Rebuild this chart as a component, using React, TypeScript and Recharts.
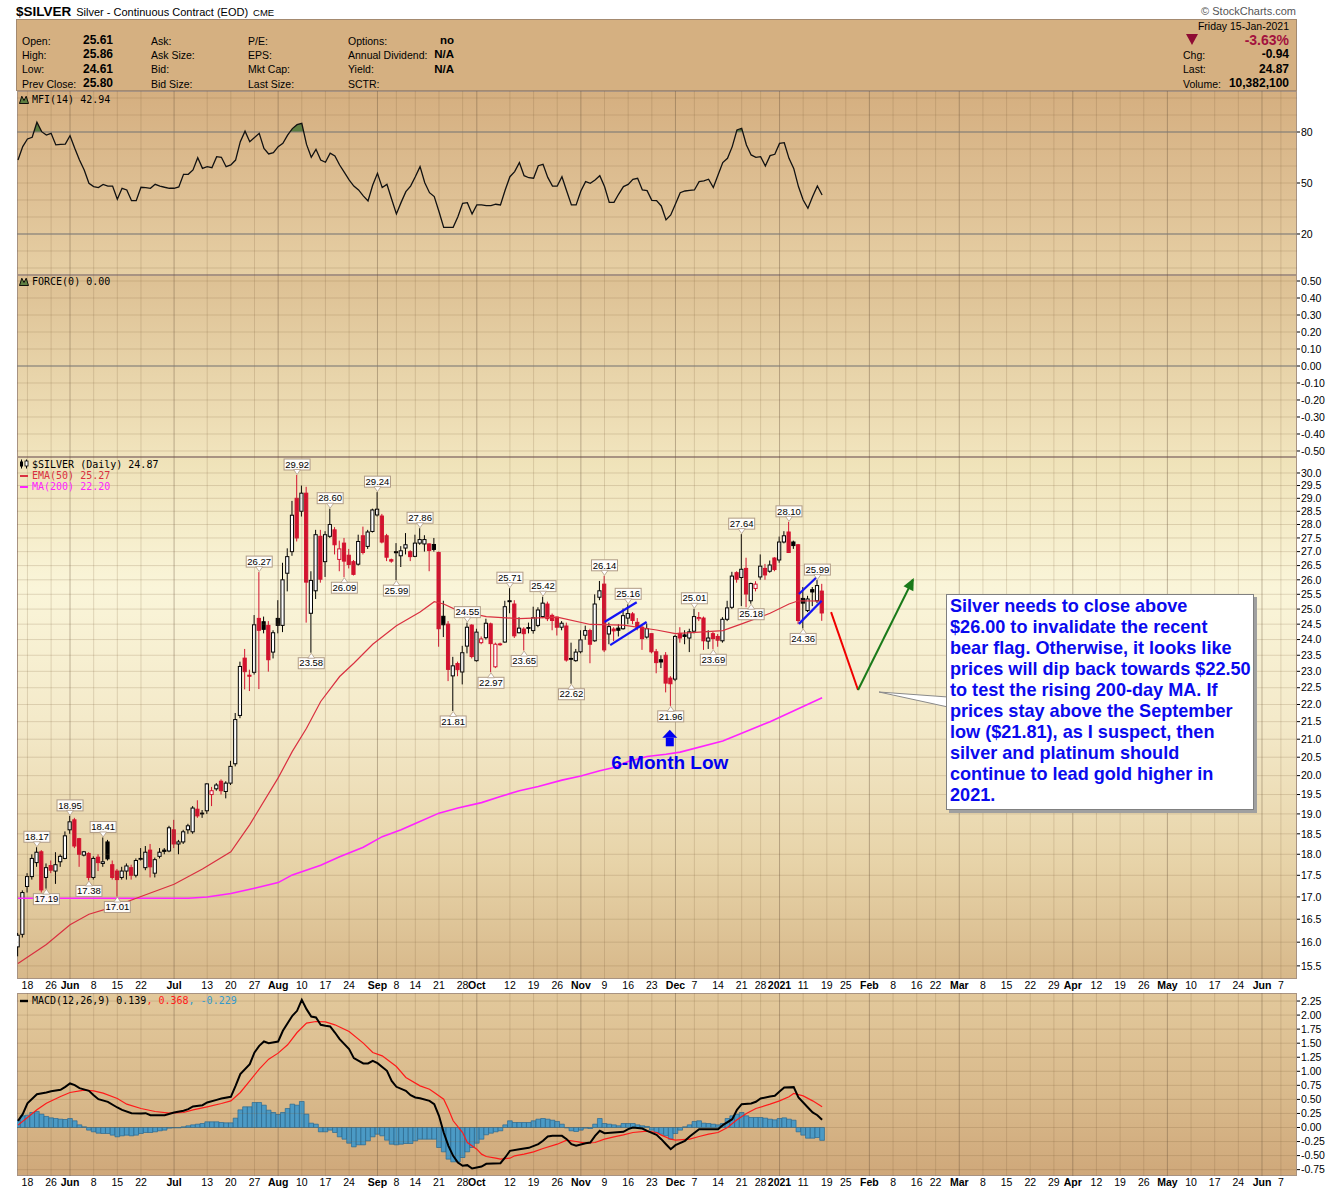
import React from 'react';
import { ComposedChart, Bar, Line, Area, XAxis, YAxis, ReferenceLine, ReferenceDot } from 'recharts';

const FONT = '"Liberation Sans", Arial, Helvetica, sans-serif';
const MONO = '"DejaVu Sans Mono", "Liberation Mono", monospace';
const W = 1340;
const PL = 17;
const AW = 43;
const X_MIN = -0.21;
const X_MAX = 270.4;
const RED = '#D3122F';
const GRID_C = 'rgba(120,92,55,0.20)';
const MONTH_C = 'rgba(105,82,60,0.40)';

// ---- x axis labels: [trading-day index, label, isMonth]
const xTicks: [number, string, number][] = [
  [2, '18', 0], [7, '26', 0], [11, 'Jun', 1], [16, '8', 0], [21, '15', 0], [26, '22', 0], [33, 'Jul', 1], [40, '13', 0],
  [45, '20', 0], [50, '27', 0], [55, 'Aug', 1], [60, '10', 0], [65, '17', 0], [70, '24', 0], [76, 'Sep', 1], [80, '8', 0],
  [84, '14', 0], [89, '21', 0], [94, '28', 0], [97, 'Oct', 1], [104, '12', 0], [109, '19', 0], [114, '26', 0], [119, 'Nov', 1],
  [124, '9', 0], [129, '16', 0], [134, '23', 0], [139, 'Dec', 1], [143, '7', 0], [148, '14', 0], [153, '21', 0], [157, '28', 0],
  [161, '2021', 1], [166, '11', 0], [171, '19', 0], [175, '25', 0], [180, 'Feb', 1], [185, '8', 0], [190, '16', 0], [194, '22', 0],
  [199, 'Mar', 1], [204, '8', 0], [209, '15', 0], [214, '22', 0], [219, '29', 0], [223, 'Apr', 1], [228, '12', 0], [233, '19', 0],
  [238, '26', 0], [243, 'May', 1], [248, '10', 0], [253, '17', 0], [258, '24', 0], [263, 'Jun', 1], [267, '7', 0],
];

// ---- daily candles [open, high, low, close], 14-May-2020 .. 15-Jan-2021
const ohlc: [number, number, number, number][] = [
  [15.9, 16.2, 15.7, 16.15], [16.17, 17.15, 16.1, 17.1], [17.24, 17.55, 17.1, 17.47], [17.47, 18.0, 17.4, 17.9], [17.8, 18.17, 17.7, 18.05],
  [18.06, 18.1, 17.1, 17.16], [17.45, 17.78, 17.19, 17.68], [17.73, 17.85, 17.55, 17.62], [17.6, 18.05, 17.3, 17.75], [17.82, 18.0, 17.7, 17.95],
  [17.9, 18.56, 17.88, 18.45], [18.6, 18.95, 18.5, 18.8], [18.85, 18.9, 18.15, 18.2], [18.38, 18.4, 17.7, 18.0], [17.98, 18.08, 17.95, 18.06],
  [18.02, 18.05, 17.38, 17.45], [17.45, 17.95, 17.4, 17.9], [17.93, 18.0, 17.6, 17.8], [17.78, 18.41, 17.7, 17.82], [18.3, 18.35, 17.85, 17.89],
  [17.75, 17.85, 17.4, 17.45], [17.6, 17.65, 17.01, 17.4], [17.45, 17.7, 17.4, 17.6], [17.6, 17.78, 17.4, 17.72], [17.68, 17.75, 17.4, 17.5],
  [17.5, 17.9, 17.45, 17.85], [17.88, 18.15, 17.85, 17.9], [17.68, 18.2, 17.62, 18.05], [18.1, 18.25, 17.45, 17.7], [17.55, 17.92, 17.45, 17.87],
  [17.95, 18.15, 17.9, 18.05], [18.1, 18.15, 18.0, 18.07], [18.08, 18.7, 18.05, 18.65], [18.6, 18.85, 18.15, 18.25], [18.25, 18.35, 18.0, 18.3],
  [18.3, 18.6, 18.25, 18.55], [18.6, 18.75, 18.5, 18.7], [18.55, 19.2, 18.5, 19.15], [19.12, 19.35, 18.9, 18.95], [19.02, 19.1, 18.9, 19.0],
  [19.08, 19.8, 19.0, 19.78], [19.5, 19.7, 19.2, 19.6], [19.65, 19.8, 19.6, 19.75], [19.85, 19.9, 19.5, 19.6], [19.58, 19.85, 19.4, 19.8],
  [19.8, 20.4, 19.75, 20.25], [20.32, 21.75, 20.25, 21.56], [21.68, 23.3, 21.6, 23.15], [23.41, 23.7, 22.45, 22.99], [22.88, 23.05, 22.4, 22.85],
  [22.97, 24.8, 22.9, 24.48], [24.69, 26.27, 22.46, 24.3], [24.58, 24.75, 24.2, 24.33], [24.46, 24.6, 22.99, 23.36], [23.6, 24.3, 23.4, 24.22],
  [24.69, 25.3, 24.2, 24.46], [24.46, 26.6, 24.24, 26.0], [26.23, 27.12, 25.6, 26.82], [27.0, 28.9, 26.85, 28.35], [29.0, 29.92, 27.37, 27.5],
  [28.5, 29.5, 28.3, 29.2], [29.2, 29.45, 24.55, 25.92], [24.86, 26.3, 23.58, 25.98], [25.62, 27.8, 25.34, 27.62], [27.56, 27.8, 25.9, 26.02],
  [26.64, 27.75, 26.1, 27.62], [27.56, 28.6, 27.5, 28.0], [27.8, 27.9, 26.9, 27.25], [26.72, 27.4, 26.3, 27.1], [27.31, 27.5, 26.09, 26.66],
  [26.87, 27.1, 26.4, 26.54], [26.64, 26.7, 26.15, 26.19], [26.55, 27.62, 26.5, 27.37], [27.58, 27.92, 26.9, 26.97], [27.19, 27.8, 27.1, 27.72],
  [27.74, 28.6, 27.7, 28.55], [28.36, 29.24, 28.3, 28.58], [28.32, 28.4, 27.3, 27.35], [27.58, 27.65, 26.66, 26.8], [26.71, 26.75, 26.6, 26.66],
  [27.0, 27.31, 25.99, 26.96], [26.85, 27.2, 26.45, 27.03], [27.13, 27.68, 26.9, 27.25], [27.0, 27.05, 26.66, 26.82], [26.83, 27.62, 26.8, 27.31],
  [27.31, 27.86, 27.25, 27.44], [27.28, 27.6, 27.0, 27.44], [27.28, 27.3, 26.3, 27.04], [27.26, 27.5, 27.0, 27.08], [26.97, 27.0, 23.77, 24.35],
  [24.76, 25.28, 24.08, 24.48], [24.5, 24.6, 22.7, 23.06], [22.86, 23.45, 21.81, 23.17], [23.24, 23.3, 22.85, 23.05], [22.98, 23.8, 22.6, 23.58],
  [23.79, 24.55, 23.56, 24.4], [24.47, 24.5, 23.4, 23.46], [23.33, 24.35, 23.3, 24.24], [23.9, 24.1, 23.85, 24.02], [24.06, 24.68, 24.0, 24.53],
  [24.51, 24.55, 22.97, 23.87], [23.14, 23.9, 23.1, 23.85], [23.86, 23.9, 23.8, 23.84], [23.92, 25.28, 23.9, 25.08], [25.28, 25.71, 24.86, 25.25],
  [25.17, 25.3, 24.05, 24.12], [24.22, 24.73, 24.2, 24.37], [24.34, 24.4, 23.65, 24.19], [24.39, 24.55, 24.2, 24.38], [24.29, 25.08, 24.19, 24.71],
  [24.46, 25.06, 24.4, 24.97], [24.75, 25.42, 24.7, 25.2], [25.17, 25.25, 24.6, 24.68], [24.79, 24.85, 24.3, 24.62], [24.73, 24.75, 24.13, 24.4],
  [24.4, 24.6, 24.3, 24.53], [24.44, 24.55, 23.3, 23.35], [23.4, 23.9, 22.62, 23.38], [23.33, 23.7, 23.3, 23.6], [23.61, 24.3, 23.56, 23.99],
  [24.14, 24.45, 23.99, 24.29], [24.29, 24.35, 23.25, 23.85], [23.96, 25.5, 23.93, 25.17], [25.4, 25.96, 25.3, 25.62], [25.85, 26.14, 23.6, 23.67],
  [24.18, 24.55, 23.85, 24.42], [24.34, 24.4, 23.95, 24.28], [24.37, 24.5, 24.1, 24.3], [24.35, 25.02, 24.32, 24.78], [24.7, 25.16, 24.5, 24.85],
  [24.84, 24.9, 24.5, 24.62], [24.56, 24.7, 24.3, 24.4], [24.4, 24.45, 23.67, 24.03], [24.08, 24.52, 24.03, 24.35], [24.19, 24.2, 23.56, 23.61],
  [23.61, 23.7, 22.94, 23.27], [23.36, 23.5, 23.1, 23.29], [23.5, 23.6, 22.36, 22.64], [22.79, 22.85, 21.96, 22.62], [22.76, 24.15, 22.7, 24.1],
  [24.2, 24.4, 23.9, 24.05], [24.15, 24.3, 23.85, 24.1], [24.05, 24.35, 23.6, 24.25], [24.27, 25.01, 24.2, 24.75], [24.68, 24.9, 24.6, 24.72],
  [24.7, 24.75, 23.67, 23.96], [23.95, 24.3, 23.7, 24.05], [24.19, 24.25, 23.69, 24.03], [24.1, 24.18, 23.77, 23.98], [23.96, 24.73, 23.9, 24.66],
  [24.66, 25.28, 24.6, 25.04], [25.06, 26.28, 25.0, 26.13], [26.25, 26.3, 25.9, 26.02], [26.08, 27.64, 25.1, 26.37], [26.4, 26.78, 25.06, 25.51],
  [25.28, 25.9, 25.18, 25.87], [25.7, 25.95, 25.6, 25.85], [26.1, 26.9, 26.0, 26.48], [26.4, 26.56, 26.0, 26.17], [26.3, 26.68, 26.25, 26.52],
  [26.77, 26.8, 26.3, 26.36], [26.7, 27.55, 26.6, 27.35], [27.35, 27.75, 27.3, 27.58], [27.72, 28.1, 26.95, 26.97], [27.35, 27.4, 27.1, 27.22],
  [27.25, 27.28, 24.5, 24.62], [25.36, 25.75, 24.36, 25.2], [24.95, 25.45, 24.9, 25.34], [25.66, 25.75, 25.1, 25.58], [25.28, 25.99, 25.2, 25.8],
  [25.61, 25.86, 24.61, 24.87],
];

// ---- moving averages read at sample days [index, value]
const ema50: [number, number][] = [
  [0, 15.55], [6, 15.95], [11, 16.38], [15, 16.61], [20, 16.77], [26, 17.01], [33, 17.29], [39, 17.65], [45, 18.06], [49, 18.73],
  [55, 19.94], [58, 20.66], [61, 21.31], [64, 22.09], [68, 22.84], [71, 23.25], [75, 23.85], [80, 24.45], [85, 24.9], [88, 25.25],
  [90, 25.17], [93, 24.95], [99, 24.75], [106, 24.68], [114, 24.73], [121, 24.49], [128, 24.47], [135, 24.31], [139, 24.19], [144, 24.24],
  [149, 24.29], [153, 24.51], [159, 24.86], [163, 25.17], [165, 25.28], [170, 25.27],
];
const ma200: [number, number][] = [
  [0, 16.97], [20, 16.97], [36, 16.97], [40, 17.0], [45, 17.08], [50, 17.2], [55, 17.33], [58, 17.51], [64, 17.74], [68, 17.94],
  [73, 18.17], [77, 18.43], [81, 18.6], [84, 18.76], [89, 19.02], [93, 19.15], [98, 19.29], [102, 19.45], [106, 19.6], [110, 19.71],
  [115, 19.88], [119, 19.99], [123, 20.13], [126, 20.22], [129, 20.38], [133, 20.52], [137, 20.58], [140, 20.64], [149, 20.95], [159, 21.5],
  [170, 22.2],
];

// ---- MFI(14) daily
const mfi: number[] = [
  63.5, 71.4, 75.9, 76.9, 85.7, 80.2, 78.2, 79.2, 72.4, 72.7, 72.9, 77.8, 70.4, 63.5, 57.7, 49.8, 47.9, 47.3, 49.2, 48.2,
  48.2, 40.4, 46.9, 45.9, 39.6, 39.6, 47.5, 47.3, 46.9, 49.2, 48.2, 47.5, 46.9, 46.9, 47.7, 55.1, 55.1, 57.7, 64.9, 58.6,
  59.6, 59.0, 65.5, 65.1, 59.6, 60.6, 63.5, 74.3, 80.5, 74.3, 76.7, 79.2, 70.4, 67.1, 67.8, 71.4, 73.3, 78.2, 82.0, 84.3,
  85.1, 72.7, 65.1, 69.8, 63.5, 62.2, 67.5, 65.9, 60.6, 56.3, 51.8, 48.2, 45.9, 42.4, 39.4, 48.8, 55.7, 47.3, 49.2, 40.4,
  31.8, 38.6, 44.9, 48.2, 53.7, 59.6, 50.2, 44.3, 42.0, 33.2, 23.9, 23.9, 23.9, 30.2, 38.1, 38.4, 31.8, 37.1, 37.1, 36.7,
  36.7, 37.5, 37.1, 45.9, 53.7, 56.7, 62.0, 54.3, 53.1, 52.8, 60.2, 61.0, 53.3, 48.2, 48.2, 53.7, 45.3, 37.1, 37.1, 45.3,
  50.8, 49.8, 51.8, 54.3, 47.9, 38.6, 38.6, 43.5, 47.9, 49.2, 52.2, 52.8, 45.9, 45.5, 39.8, 39.6, 36.5, 28.3, 31.2, 37.7,
  44.3, 45.3, 45.7, 45.9, 50.8, 51.2, 52.2, 47.3, 54.7, 62.0, 64.5, 71.4, 81.2, 82.2, 72.4, 66.5, 65.1, 65.5, 60.0, 66.1,
  66.9, 73.3, 73.7, 64.5, 58.6, 47.9, 40.0, 35.1, 42.0, 48.2, 42.94,
];

// ---- MACD(12,26,9)
const macdLine: [number, number][] = [
  [0, 0.119], [1, 0.237], [2, 0.43], [4, 0.593], [6, 0.623], [7, 0.646], [9, 0.67], [10, 0.724], [11, 0.783], [12, 0.753],
  [13, 0.7], [15, 0.652], [16, 0.575], [17, 0.504], [19, 0.457], [21, 0.356], [22, 0.314], [24, 0.255], [26, 0.249], [27, 0.255],
  [28, 0.219], [31, 0.219], [33, 0.267], [35, 0.297], [36, 0.326], [37, 0.374], [39, 0.397], [40, 0.445], [42, 0.492], [43, 0.516],
  [45, 0.546], [46, 0.741], [47, 0.949], [49, 1.127], [50, 1.335], [51, 1.453], [52, 1.53], [53, 1.501], [55, 1.53], [56, 1.72],
  [58, 1.987], [59, 2.076], [60, 2.272], [61, 2.106], [62, 1.975], [63, 1.957], [64, 1.827], [65, 1.809], [66, 1.797], [67, 1.69],
  [68, 1.572], [70, 1.394], [71, 1.234], [73, 1.139], [74, 1.139], [75, 1.186], [76, 1.145], [78, 1.008], [79, 0.83], [80, 0.724],
  [82, 0.652], [83, 0.575], [84, 0.534], [85, 0.52], [87, 0.474], [88, 0.415], [89, 0.208], [90, -0.089], [91, -0.326], [92, -0.504],
  [93, -0.623], [94, -0.682], [95, -0.67], [96, -0.73], [98, -0.694], [99, -0.647], [102, -0.635], [103, -0.534], [104, -0.415], [106, -0.386],
  [108, -0.362], [110, -0.297], [111, -0.237], [112, -0.16], [113, -0.148], [115, -0.148], [116, -0.208], [117, -0.297], [118, -0.326], [120, -0.279],
  [121, -0.267], [122, -0.148], [123, -0.059], [124, -0.101], [126, -0.089], [128, -0.077], [129, -0.03], [130, 0.0], [132, -0.018], [133, -0.059],
  [135, -0.13], [136, -0.208], [137, -0.297], [138, -0.386], [139, -0.314], [141, -0.237], [142, -0.16], [144, -0.03], [146, -0.03], [148, -0.03],
  [149, 0.042], [151, 0.148], [152, 0.314], [153, 0.415], [155, 0.427], [156, 0.457], [157, 0.516], [159, 0.552], [160, 0.563], [161, 0.641],
  [162, 0.712], [164, 0.718], [165, 0.534], [167, 0.356], [168, 0.267], [169, 0.219], [170, 0.139],
];
const macdSignal: [number, number][] = [
  [0, 0.042], [2, 0.178], [4, 0.314], [6, 0.433], [9, 0.552], [11, 0.623], [14, 0.664], [16, 0.652], [18, 0.611], [21, 0.516],
  [23, 0.415], [26, 0.338], [29, 0.285], [32, 0.255], [35, 0.267], [37, 0.314], [40, 0.368], [43, 0.427], [45, 0.474], [47, 0.623],
  [49, 0.83], [51, 1.038], [53, 1.216], [55, 1.323], [57, 1.471], [59, 1.69], [61, 1.856], [63, 1.886], [65, 1.88], [67, 1.827],
  [70, 1.708], [73, 1.501], [75, 1.335], [77, 1.275], [80, 1.085], [82, 0.89], [85, 0.741], [87, 0.682], [88, 0.623], [90, 0.504],
  [91, 0.326], [92, 0.119], [94, -0.089], [95, -0.267], [97, -0.386], [98, -0.474], [99, -0.516], [101, -0.546], [102, -0.563], [104, -0.546],
  [105, -0.504], [107, -0.474], [109, -0.433], [111, -0.374], [114, -0.297], [116, -0.225], [118, -0.249], [120, -0.279], [122, -0.267], [124, -0.208],
  [126, -0.166], [128, -0.13], [130, -0.089], [133, -0.065], [135, -0.089], [136, -0.136], [138, -0.208], [139, -0.225], [142, -0.208], [144, -0.16],
  [146, -0.119], [148, -0.089], [150, 0.0], [152, 0.136], [154, 0.249], [156, 0.338], [159, 0.415], [161, 0.474], [163, 0.546], [164, 0.605],
  [166, 0.563], [168, 0.474], [170, 0.368],
];
const macdHist: number[] = [
  0.13, 0.208, 0.219, 0.267, 0.285, 0.237, 0.196, 0.172, 0.16, 0.148, 0.142, 0.16, 0.119, 0.047, 0.012, -0.047, -0.077, -0.101, -0.107, -0.107,
  -0.136, -0.166, -0.148, -0.136, -0.148, -0.136, -0.107, -0.089, -0.089, -0.077, -0.059, -0.047, -0.012, -0.006, -0.006, 0.012, 0.03, 0.047, 0.059, 0.071,
  0.101, 0.101, 0.101, 0.089, 0.083, 0.083, 0.166, 0.314, 0.368, 0.368, 0.445, 0.445, 0.397, 0.308, 0.267, 0.231, 0.267, 0.338, 0.415, 0.397,
  0.463, 0.237, 0.077, 0.059, -0.077, -0.077, -0.047, -0.089, -0.166, -0.208, -0.279, -0.344, -0.308, -0.308, -0.237, -0.166, -0.119, -0.148, -0.225, -0.297,
  -0.308, -0.297, -0.285, -0.285, -0.237, -0.208, -0.208, -0.208, -0.208, -0.356, -0.433, -0.563, -0.611, -0.611, -0.534, -0.433, -0.356, -0.279, -0.208, -0.13,
  -0.101, -0.077, -0.059, 0.047, 0.119, 0.089, 0.089, 0.089, 0.089, 0.119, 0.148, 0.16, 0.148, 0.13, 0.107, 0.059, -0.006, -0.059, -0.071, -0.047,
  -0.012, -0.018, 0.059, 0.16, 0.071, 0.059, 0.047, 0.03, 0.071, 0.071, 0.071, 0.047, 0.03, 0.018, -0.047, -0.089, -0.119, -0.148, -0.208, -0.107,
  -0.047, 0.012, 0.047, 0.107, 0.119, 0.077, 0.071, 0.059, 0.047, 0.071, 0.16, 0.208, 0.237, 0.267, 0.208, 0.178, 0.178, 0.178, 0.166, 0.148,
  0.136, 0.16, 0.172, 0.148, 0.13, -0.077, -0.136, -0.19, -0.19, -0.178, -0.229,
];

// ---- swing price tags [index, price]
const highTags: [number, number][] = [
  [4, 18.17], [11, 18.95], [18, 18.41], [51, 26.27], [59, 29.92], [66, 28.6], [76, 29.24], [85, 27.86], [95, 24.55],
  [104, 25.71], [111, 25.42], [124, 26.14], [129, 25.16], [143, 25.01], [153, 27.64], [163, 28.1], [169, 25.99],
];
const lowTags: [number, number][] = [
  [6, 17.19], [15, 17.38], [21, 17.01], [62, 23.58], [69, 26.09], [80, 25.99], [92, 21.81], [100, 22.97], [107, 23.65],
  [117, 22.62], [138, 21.96], [147, 23.69], [155, 25.18], [166, 24.36],
];

// ---- hand-drawn annotations (in index / price units)
const flagLines: [number, number, number, number][] = [
  [124, 24.57, 130.8, 25.23], [125.2, 23.82, 132.9, 24.57], [165.1, 25.51, 168.9, 26.1], [165.1, 24.51, 169.9, 25.28],
];
const redLeg: [number, number, number, number] = [171.9, 24.9, 177.6, 22.43];
const greenLeg: [number, number, number, number] = [177.6, 22.43, 189.2, 26.0];
const lowArrow: [number, number] = [137.8, 21.04];
const noteLines = [
  'Silver needs to close above', '$26.00 to invalidate the recent', 'bear flag. Otherwise, it looks like',
  'prices will dip back towards $22.50', 'to test the rising 200-day MA. If', 'prices stay above the September',
  'low ($21.81), as I suspect, then', 'silver and platinum should', 'continue to lead gold higher in', '2021.',
];

// ---- axis ticks
const priceTicks = [15.5, 16, 16.5, 17, 17.5, 18, 18.5, 19, 19.5, 20, 20.5, 21, 21.5, 22, 22.5, 23, 23.5, 24, 24.5, 25, 25.5, 26, 26.5, 27, 27.5, 28, 28.5, 29, 29.5, 30];
const mfiTicks = [80, 50, 20];
const mfiGrid = [0, 10, 20, 30, 40, 50, 60, 70, 80, 90, 100];
const forceTicks = [0.5, 0.4, 0.3, 0.2, 0.1, 0, -0.1, -0.2, -0.3, -0.4, -0.5];
const macdTicks = [2.25, 2.0, 1.75, 1.5, 1.25, 1.0, 0.75, 0.5, 0.25, 0, -0.25, -0.5, -0.75];

// ---- panel geometry
const MFI_TOP = 91, MFI_H = 184, MFI_MIN = -4.12, MFI_MAX = 104.12;
const F_TOP = 275, F_H = 182, F_MIN = -0.5353, F_MAX = 0.5353;
const P_TOP = 457, P_H = 522, P_MIN = 15.23, P_MAX = 30.65;
const M_TOP = 993, M_H = 183, M_MIN = -0.863, M_MAX = 2.393;

// ---- tables
const priceRows: any[] = ohlc.map(([o, h, l, c], i) => ({ i, o, h, l, c, prev: i > 0 ? ohlc[i - 1][3] : o, range: [l, h] }));
ema50.forEach(([i, v]) => { priceRows[i].ema = v; });
ma200.forEach(([i, v]) => { priceRows[i].ma = v; });
const mfiRows = mfi.map((v, i) => ({ i, mfi: v }));
const forceRows = mfi.map((_, i) => ({ i }));
const macdRows: any[] = macdHist.map((v, i) => ({ i, hist: v }));
macdLine.forEach(([i, v]) => { macdRows[i].macd = v; });
macdSignal.forEach(([i, v]) => { macdRows[i].signal = v; });

const tickMap = new Map<number, [string, number]>(xTicks.map(([i, l, m]) => [i, [l, m]]));
const tickIdx = xTicks.map((t) => t[0]);

function XTick(props: any) {
  const { x, y, payload } = props;
  const t = tickMap.get(payload.value);
  if (!t) return null;
  return (
    <text x={x} y={y + 10} textAnchor="middle" fontSize={10.5} fontWeight={t[1] ? 'bold' : 'normal'} fill="#000" fontFamily={FONT}>
      {t[0]}
    </text>
  );
}

function Candle(props: any) {
  const { x, y, width, height, payload } = props;
  if (!payload) return null;
  const { o, h, l, c, prev } = payload;
  const cx = x + width / 2;
  const lh = Math.log(h), ll = Math.log(l);
  const yOf = (p: number) => (lh === ll ? y : y + (height * (lh - Math.log(p))) / (lh - ll));
  const hollow = c >= o;
  const color = c < prev ? RED : '#000';
  const top = yOf(Math.max(o, c));
  const bot = yOf(Math.min(o, c));
  const bw = 3.2;
  return (
    <g>
      <line x1={cx} x2={cx} y1={y} y2={y + height} stroke={color} strokeWidth={1} />
      <rect x={cx - bw / 2} y={top} width={bw} height={Math.max(bot - top, 0.8)} fill={hollow ? '#FFFFFF' : color} stroke={color} strokeWidth={1} />
    </g>
  );
}

function PriceTag({ cx, cy, text, up }: any) {
  const w = 26, h = 11, gap = 5;
  const by = up ? cy - gap - h : cy + gap;
  const tri = up
    ? `${cx - 3.5},${cy - gap - 0.5} ${cx + 3.5},${cy - gap - 0.5} ${cx},${cy - 0.5}`
    : `${cx - 3.5},${cy + gap + 0.5} ${cx + 3.5},${cy + gap + 0.5} ${cx},${cy + 0.5}`;
  return (
    <g>
      <rect x={cx - w / 2} y={by} width={w} height={h} fill="#FFFFFF" fillOpacity={0.92} stroke="#B09C86" strokeWidth={1} />
      <polygon points={tri} fill="#FFFFFF" stroke="#B09C86" strokeWidth={0.8} />
      <text x={cx} y={by + 8.7} textAnchor="middle" fontSize={9.5} fontFamily={FONT} fill="#000">{text}</text>
    </g>
  );
}

function ArrowHead({ cx, cy }: any) {
  return (
    <g transform={`translate(${cx},${cy}) rotate(-63.4)`}>
      <polygon points="2,0 -10,-5.5 -10,5.5" fill="#197A19" />
    </g>
  );
}

function LowArrow({ cx, cy }: any) {
  return (
    <g>
      <polygon points={`${cx - 7.5},${cy} ${cx + 7.5},${cy} ${cx},${cy - 8}`} fill="#0000F0" />
      <rect x={cx - 4} y={cy} width={8} height={8.5} fill="#0000F0" />
      <text x={cx} y={cy + 31} textAnchor="middle" fontSize={19} fontWeight="bold" fill="#0000F0" fontFamily={FONT}>6-Month Low</text>
    </g>
  );
}

const vGrid = () =>
  xTicks.map(([i, , m]) => <ReferenceLine key={'v' + i} x={i} stroke={m ? MONTH_C : GRID_C} strokeWidth={1} />);
const hGrid = (vals: number[], key: string) =>
  vals.map((v) => <ReferenceLine key={key + v} y={v} stroke={GRID_C} strokeWidth={1} />);

const yAxisProps = {
  orientation: 'right' as const,
  width: AW,
  tickSize: 3,
  tickMargin: 1,
  axisLine: false,
  tickLine: { stroke: '#000' },
  tick: { fontSize: 10.5, fill: '#000', fontFamily: FONT },
  interval: 0 as const,
  allowDataOverflow: true,
};

function Legend({ top, children }: any) {
  return (
    <div style={{ position: 'absolute', left: 19, top, height: 11, lineHeight: '11px', fontFamily: MONO, fontSize: 10, whiteSpace: 'pre', display: 'flex', alignItems: 'center' }}>
      {children}
    </div>
  );
}

const MountainIcon = () => (
  <svg width={10} height={9} style={{ marginRight: 3 }}>
    <path d="M0.5,8.5 L2.8,1.2 L5,5.5 L7.2,1.2 L9.5,8.5 Z" fill="#5E7E41" stroke="#000" strokeWidth={0.9} />
  </svg>
);

function Header() {
  const lab = { position: 'absolute' as const, fontSize: 10.5, fontFamily: FONT, color: '#000', whiteSpace: 'nowrap' as const, lineHeight: '12px' };
  const val = { ...lab, fontSize: 12, fontWeight: 'bold' as const };
  const rows = [34.5, 48.5, 63, 77.5];
  return (
    <>
      <div style={{ position: 'absolute', left: 16, top: 2, fontFamily: FONT, whiteSpace: 'nowrap', lineHeight: '18px' }}>
        <span style={{ fontWeight: 'bold', fontSize: 13.5 }}>$SILVER</span>
        <span style={{ fontSize: 11, marginLeft: 5 }}>Silver - Continuous Contract (EOD)</span>
        <span style={{ fontSize: 9.5, marginLeft: 5 }}>CME</span>
      </div>
      <div style={{ position: 'absolute', right: 1340 - 1296, top: 5, fontFamily: FONT, fontSize: 11, color: '#555', whiteSpace: 'nowrap', lineHeight: '13px' }}>
        © StockCharts.com
      </div>
      <div style={{ position: 'absolute', left: 16, top: 19, width: 1281, height: 72, boxSizing: 'border-box', background: '#D5B081', border: '1px solid #A48A70' }} />
      {['Open:', 'High:', 'Low:', 'Prev Close:'].map((t, k) => <div key={t} style={{ ...lab, left: 22, top: rows[k] }}>{t}</div>)}
      {['25.61', '25.86', '24.61', '25.80'].map((t, k) => <div key={'v' + k} style={{ ...val, left: 83, top: rows[k] - 0.5 }}>{t}</div>)}
      {['Ask:', 'Ask Size:', 'Bid:', 'Bid Size:'].map((t, k) => <div key={t} style={{ ...lab, left: 151, top: rows[k] }}>{t}</div>)}
      {['P/E:', 'EPS:', 'Mkt Cap:', 'Last Size:'].map((t, k) => <div key={t} style={{ ...lab, left: 248, top: rows[k] }}>{t}</div>)}
      {['Options:', 'Annual Dividend:', 'Yield:', 'SCTR:'].map((t, k) => <div key={t} style={{ ...lab, left: 348, top: rows[k] }}>{t}</div>)}
      {['no', 'N/A', 'N/A'].map((t, k) => <div key={'o' + k} style={{ ...val, right: 1340 - 454, top: rows[k] - 0.5, fontSize: 11.5 }}>{t}</div>)}
      <div style={{ ...lab, right: 1340 - 1289, top: 20 }}>{'Friday  15-Jan-2021'}</div>
      <div style={{ position: 'absolute', left: 1186, top: 34, width: 0, height: 0, borderLeft: '6px solid transparent', borderRight: '6px solid transparent', borderTop: '11px solid #8E0B33' }} />
      <div style={{ ...val, right: 1340 - 1289, top: 33, fontSize: 14, color: '#A3123E', lineHeight: '15px' }}>-3.63%</div>
      {['Chg:', 'Last:', 'Volume:'].map((t, k) => <div key={t} style={{ ...lab, left: 1183, top: rows[k + 1] }}>{t}</div>)}
      {['-0.94', '24.87', '10,382,100'].map((t, k) => <div key={'r' + k} style={{ ...val, right: 1340 - 1289, top: rows[k + 1] - 0.5 }}>{t}</div>)}
    </>
  );
}

function Panel({ top, h, bg }: any) {
  return <div style={{ position: 'absolute', left: PL, top, width: 1280, height: h, boxSizing: 'border-box', background: bg, border: '1px solid #A89382' }} />;
}

export default function App() {
  const y80 = ((MFI_MAX - 80) / (MFI_MAX - MFI_MIN)) * MFI_H;
  return (
    <div style={{ position: 'absolute', left: 0, top: 0, width: W, height: 1192, background: '#FFFFFF', overflow: 'hidden', fontFamily: FONT }}>
      <Header />
      <Panel top={MFI_TOP} h={MFI_H} bg="linear-gradient(to bottom, #D5AF80 0%, #DDBE92 50%, #E6CFA4 100%)" />
      <Panel top={F_TOP} h={F_H} bg="linear-gradient(to bottom, #DDC093 0%, #E8D4AA 55%, #F1E4BD 100%)" />
      <Panel top={P_TOP} h={P_H} bg="linear-gradient(to bottom, #EFE2B8 0%, #FAF5D9 25%, #F4EACA 50%, #E7D3A8 78%, #D7B88A 100%)" />
      <Panel top={M_TOP} h={M_H} bg="linear-gradient(to bottom, #E2C89B 0%, #D9BA8C 55%, #CFA87A 100%)" />

      {/* MFI */}
      <div style={{ position: 'absolute', left: 0, top: MFI_TOP }}>
        <ComposedChart width={W} height={MFI_H} data={mfiRows} margin={{ top: 0, right: 0, bottom: 0, left: PL }}>
          <defs>
            <linearGradient id="mfiFill" x1="0" y1="0" x2="0" y2={MFI_H} gradientUnits="userSpaceOnUse">
              <stop offset={y80 / MFI_H} stopColor="#5E7E41" stopOpacity={1} />
              <stop offset={y80 / MFI_H} stopColor="#5E7E41" stopOpacity={0} />
            </linearGradient>
          </defs>
          <XAxis type="number" dataKey="i" domain={[X_MIN, X_MAX]} hide allowDataOverflow />
          <YAxis {...yAxisProps} domain={[MFI_MIN, MFI_MAX]} ticks={mfiTicks} />
          {vGrid()}
          {hGrid(mfiGrid, 'm')}
          <ReferenceLine y={80} stroke="#7C7C7C" strokeWidth={1.2} />
          <ReferenceLine y={20} stroke="#7C7C7C" strokeWidth={1.2} />
          <Area dataKey="mfi" baseValue={80} fill="url(#mfiFill)" fillOpacity={1} stroke="none" isAnimationActive={false} />
          <Line dataKey="mfi" stroke="#111" strokeWidth={1.3} dot={false} isAnimationActive={false} />
        </ComposedChart>
      </div>

      {/* FORCE */}
      <div style={{ position: 'absolute', left: 0, top: F_TOP }}>
        <ComposedChart width={W} height={F_H} data={forceRows} margin={{ top: 0, right: 0, bottom: 0, left: PL }}>
          <XAxis type="number" dataKey="i" domain={[X_MIN, X_MAX]} hide allowDataOverflow />
          <YAxis {...yAxisProps} domain={[F_MIN, F_MAX]} ticks={forceTicks} tickFormatter={(v: number) => v.toFixed(2)} />
          {vGrid()}
          {hGrid(forceTicks, 'f')}
          <ReferenceLine y={0} stroke="#7C7C7C" strokeWidth={1.2} />
        </ComposedChart>
      </div>

      {/* PRICE */}
      <div style={{ position: 'absolute', left: 0, top: P_TOP }}>
        <ComposedChart width={W} height={P_H + 14} data={priceRows} margin={{ top: 0, right: 0, bottom: 0, left: PL }}>
          <XAxis type="number" dataKey="i" domain={[X_MIN, X_MAX]} ticks={tickIdx} interval={0} tick={(p: any) => <XTick {...p} />}
            axisLine={false} tickLine={false} tickSize={0} tickMargin={0} height={14} allowDataOverflow />
          <YAxis {...yAxisProps} scale="log" domain={[P_MIN, P_MAX]} ticks={priceTicks} tickFormatter={(v: number) => v.toFixed(1)} />
          {vGrid()}
          {hGrid(priceTicks, 'p')}
          <Line dataKey="ma" stroke="#FF22FF" strokeWidth={1.6} dot={false} connectNulls isAnimationActive={false} />
          <Line dataKey="ema" stroke="#D93040" strokeWidth={1.2} dot={false} connectNulls isAnimationActive={false} />
          <Bar dataKey="range" barSize={4} shape={(p: any) => <Candle {...p} />} isAnimationActive={false} />
          {flagLines.map(([a, b, c, d], k) => (
            <ReferenceLine key={'fl' + k} segment={[{ x: a, y: b }, { x: c, y: d }]} stroke="#1414F5" strokeWidth={2.2} ifOverflow="visible" />
          ))}
          <ReferenceLine segment={[{ x: redLeg[0], y: redLeg[1] }, { x: redLeg[2], y: redLeg[3] }]} stroke="#F00000" strokeWidth={2} ifOverflow="visible" />
          <ReferenceLine segment={[{ x: greenLeg[0], y: greenLeg[1] }, { x: greenLeg[2], y: greenLeg[3] }]} stroke="#197A19" strokeWidth={2} ifOverflow="visible" />
          <ReferenceDot x={greenLeg[2]} y={greenLeg[3]} r={1} ifOverflow="visible" shape={(p: any) => <ArrowHead cx={p.cx} cy={p.cy} />} />
          <ReferenceDot x={lowArrow[0]} y={lowArrow[1]} r={1} ifOverflow="visible" shape={(p: any) => <LowArrow cx={p.cx} cy={p.cy} />} />
          {highTags.map(([i, v]) => (
            <ReferenceDot key={'h' + i} x={i} y={v} r={1} ifOverflow="visible" shape={(p: any) => <PriceTag cx={p.cx} cy={p.cy} text={v.toFixed(2)} up />} />
          ))}
          {lowTags.map(([i, v]) => (
            <ReferenceDot key={'l' + i} x={i} y={v} r={1} ifOverflow="visible" shape={(p: any) => <PriceTag cx={p.cx} cy={p.cy} text={v.toFixed(2)} up={false} />} />
          ))}
        </ComposedChart>
      </div>

      {/* MACD */}
      <div style={{ position: 'absolute', left: 0, top: M_TOP }}>
        <ComposedChart width={W} height={M_H + 16} data={macdRows} margin={{ top: 0, right: 0, bottom: 0, left: PL }}>
          <XAxis type="number" dataKey="i" domain={[X_MIN, X_MAX]} ticks={tickIdx} interval={0} tick={(p: any) => <XTick {...p} />}
            axisLine={false} tickLine={false} tickSize={0} tickMargin={0} height={16} allowDataOverflow />
          <YAxis {...yAxisProps} domain={[M_MIN, M_MAX]} ticks={macdTicks} tickFormatter={(v: number) => v.toFixed(2)} />
          {vGrid()}
          {hGrid(macdTicks, 'd')}
          <Bar dataKey="hist" barSize={4.7} fill="#4B9AC5" stroke="#2A6990" strokeWidth={0.7} isAnimationActive={false} />
          <Line dataKey="signal" stroke="#FF1A1A" strokeWidth={1.2} dot={false} connectNulls isAnimationActive={false} />
          <Line dataKey="macd" stroke="#000" strokeWidth={2} dot={false} connectNulls isAnimationActive={false} />
        </ComposedChart>
      </div>

      {/* legends */}
      <Legend top={93.5}><MountainIcon /><span>MFI(14) 42.94</span></Legend>
      <Legend top={275.5}><MountainIcon /><span>FORCE(0) 0.00</span></Legend>
      <Legend top={458.5}>
        <svg width={10} height={10} style={{ marginRight: 3 }}>
          <line x1={2.5} x2={2.5} y1={0.5} y2={9.5} stroke="#000" />
          <rect x={1} y={2.5} width={3} height={5} fill="#000" />
          <line x1={7.5} x2={7.5} y1={0.5} y2={9.5} stroke="#000" />
          <rect x={6} y={2} width={3} height={5} fill="#fff" stroke="#000" strokeWidth={0.8} />
        </svg>
        <span>$SILVER (Daily) 24.87</span>
      </Legend>
      <Legend top={470}>
        <svg width={10} height={10} style={{ marginRight: 3 }}><line x1={1} x2={9} y1={5} y2={5} stroke="#D93040" strokeWidth={2} /></svg>
        <span style={{ color: '#D93040' }}>EMA(50) 25.27</span>
      </Legend>
      <Legend top={481}>
        <svg width={10} height={10} style={{ marginRight: 3 }}><line x1={1} x2={9} y1={5} y2={5} stroke="#FF22FF" strokeWidth={2} /></svg>
        <span style={{ color: '#FF22FF' }}>MA(200) 22.20</span>
      </Legend>
      <Legend top={995}>
        <svg width={10} height={10} style={{ marginRight: 3 }}><line x1={1} x2={9} y1={5} y2={5} stroke="#000" strokeWidth={2.4} /></svg>
        <span>MACD(12,26,9) 0.139</span>
        <span style={{ color: '#FF1A1A' }}>, 0.368</span>
        <span style={{ color: '#3399CC' }}>, -0.229</span>
      </Legend>

      {/* callout */}
      <svg style={{ position: 'absolute', left: 0, top: 0, pointerEvents: 'none' }} width={W} height={1192}>
        <polygon points="948,697 879,692 948,707" fill="#FFFFFF" stroke="#8A8A8A" strokeWidth={1} />
      </svg>
      <div style={{ position: 'absolute', left: 946, top: 594, width: 308, height: 216, boxSizing: 'border-box', background: '#FFFFFF', border: '1px solid #808080', boxShadow: '3px 3px 0 #A0A0A0', padding: '1px 0 0 3px' }}>
        {noteLines.map((t) => (
          <div key={t} style={{ fontFamily: FONT, fontWeight: 'bold', fontSize: 18.1, lineHeight: '21px', color: '#0A0AEE', whiteSpace: 'nowrap' }}>{t}</div>
        ))}
      </div>
    </div>
  );
}
